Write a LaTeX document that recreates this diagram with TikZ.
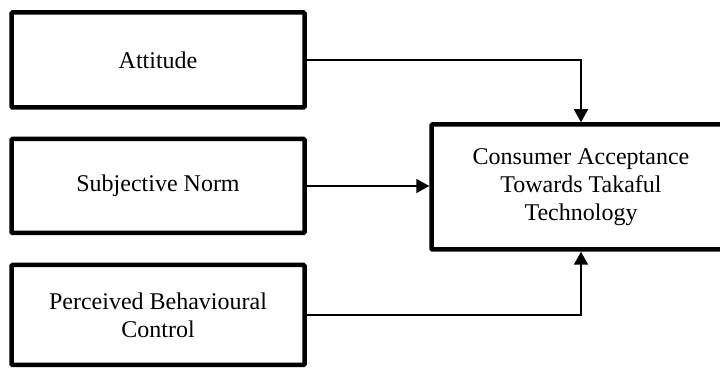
\documentclass[tikz,border=0pt]{standalone}
\usepackage{fontspec}
\setmainfont{Liberation Serif}
\usetikzlibrary{arrows.meta}
\begin{document}
\begin{tikzpicture}[x=1pt,y=1pt,
  box/.style={draw=black, line width=4.5pt, rounded corners=1pt, inner sep=0pt,
    align=center, font=\fontsize{24}{28}\selectfont},
  conn/.style={draw=black, line width=1.6pt, -{Triangle[length=13pt,width=14pt]}}]
\useasboundingbox (0,0) rectangle (720,369);
\clip (0,0) rectangle (720,369);
\node[box, minimum width=293pt, minimum height=95pt] (att) at (158,309) {Attitude};
\node[box, minimum width=293pt, minimum height=94pt] (sub) at (158,183) {Subjective Norm};
\node[box, minimum width=293pt, minimum height=100pt] (pbc) at (158,54) {Perceived Behavioural\\Control};
\node[box, minimum width=299pt, minimum height=125pt] (cons) at (581,182) {Consumer Acceptance\\Towards Takaful\\Technology};
\draw[conn] (att.east) -| (cons.north);
\draw[conn] (sub.east) -- (sub.east -| cons.west);
\draw[conn] (pbc.east) -| (cons.south);
\end{tikzpicture}
\end{document}
